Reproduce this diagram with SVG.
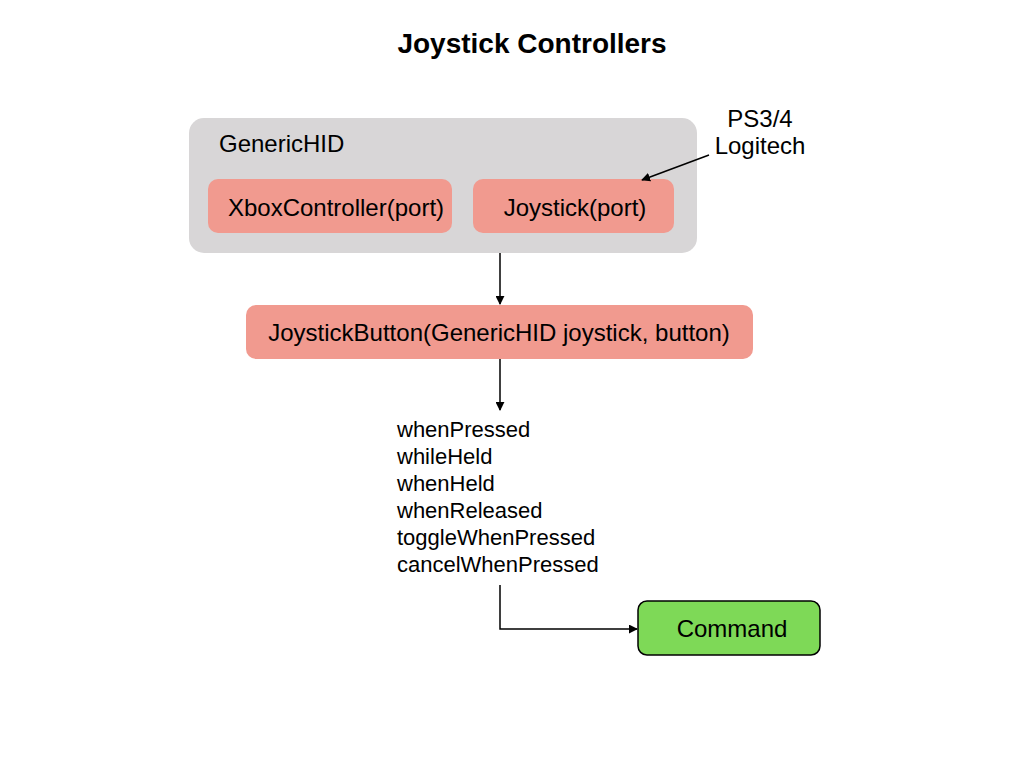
<svg xmlns="http://www.w3.org/2000/svg" width="1024" height="768" viewBox="0 0 1024 768">
<style>
text{font-family:"Liberation Sans",Arial,sans-serif;fill:#000}
.lbl{font-size:24px;text-anchor:middle}
.red{fill:#F19A8F}
.edge{stroke:#000;stroke-width:1.5;fill:none}
.list{font-size:22px}
</style>
<defs>
<marker id="ah" viewBox="0 0 10 10" refX="9" refY="5" markerWidth="9" markerHeight="9" markerUnits="userSpaceOnUse" orient="auto"><path d="M0,0 L10,5 L0,10 z" fill="#000"/></marker>
</defs>
<rect width="1024" height="768" fill="#fff"/>
<text x="532" y="53" font-size="28" font-weight="bold" text-anchor="middle">Joystick Controllers</text>
<g id="generichid">
<rect x="189" y="118" width="508" height="135" rx="15" fill="#D8D6D7"/>
<text x="219" y="152" font-size="24">GenericHID</text>
</g>
<g id="xbox">
<rect class="red" x="208" y="179" width="244" height="54" rx="10"/>
<text class="lbl" x="336" y="216">XboxController(port)</text>
</g>
<g id="joystick">
<rect class="red" x="473" y="179" width="201" height="54" rx="10"/>
<text class="lbl" x="575" y="216">Joystick(port)</text>
</g>
<g id="ps34">
<text class="lbl" x="760" y="127">PS3/4</text>
<text class="lbl" x="760" y="154">Logitech</text>
</g>
<g id="joystickbutton">
<rect class="red" x="246" y="305" width="507" height="54" rx="10"/>
<text class="lbl" x="499" y="341">JoystickButton(GenericHID joystick, button)</text>
</g>
<g id="methods">
<text class="list" x="397" y="437">whenPressed</text>
<text class="list" x="397" y="464">whileHeld</text>
<text class="list" x="397" y="491">whenHeld</text>
<text class="list" x="397" y="518">whenReleased</text>
<text class="list" x="397" y="545">toggleWhenPressed</text>
<text class="list" x="397" y="572">cancelWhenPressed</text>
</g>
<g id="command">
<rect x="638" y="601" width="182" height="54" rx="9" fill="#7ED957" stroke="#000" stroke-width="1.5"/>
<text class="lbl" x="732" y="637">Command</text>
</g>
<g id="connectors">
<line class="edge" x1="709" y1="155" x2="642" y2="180" marker-end="url(#ah)"/>
<line class="edge" x1="500" y1="253" x2="500" y2="304" marker-end="url(#ah)"/>
<line class="edge" x1="500" y1="359" x2="500" y2="410" marker-end="url(#ah)"/>
<polyline class="edge" points="500,585 500,629 637,629" marker-end="url(#ah)"/>
</g>
</svg>
